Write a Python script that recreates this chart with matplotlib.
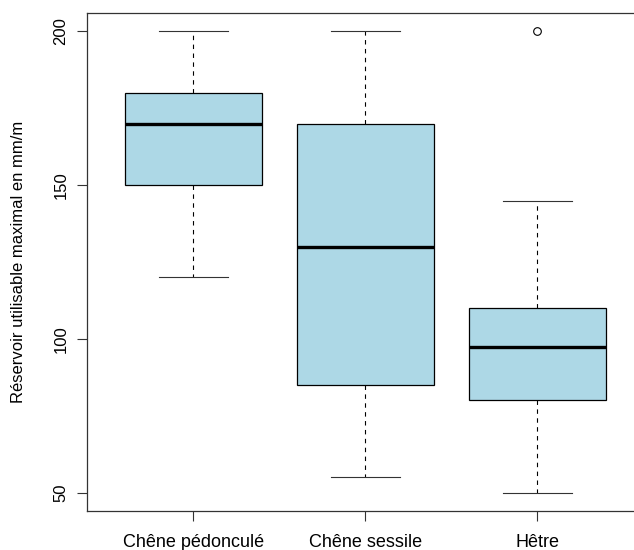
import matplotlib
matplotlib.use("Agg")
import matplotlib.pyplot as plt

plt.rcParams['font.family'] = ['Liberation Sans', 'DejaVu Sans']

# Données (réservoir utile maximal, mm/m)
especes = ['Chêne pédonculé', 'Chêne sessile', 'Hêtre']
moustache_bas = [120, 55, 50]
q1 = [150, 85, 80]
mediane = [170, 130, 97.5]
q3 = [180, 170, 110]
moustache_haut = [200, 200, 145]
atypiques = [[], [], [200]]

stats = []
for i in range(len(especes)):
    stats.append({'label': especes[i], 'whislo': moustache_bas[i], 'q1': q1[i],
                  'med': mediane[i], 'q3': q3[i], 'whishi': moustache_haut[i],
                  'fliers': atypiques[i]})

fig = plt.figure(figsize=(6.34, 5.5), dpi=100)
# la bordure droite du cadre sort de l'image (figure recadrée)
ax = fig.add_axes([86.7 / 634, 1 - 511 / 550, 557.3 / 634, 498 / 550])

ax.bxp(stats, positions=[1, 2, 3], widths=0.8, capwidths=0.4, patch_artist=True,
       boxprops=dict(facecolor='#ADD8E6', edgecolor='black', linewidth=0.9),
       medianprops=dict(color='black', linewidth=2.4, solid_capstyle='butt'),
       whiskerprops=dict(color='black', linewidth=0.8, linestyle=(0, (4, 4))),
       capprops=dict(color='#333333', linewidth=0.8),
       flierprops=dict(marker='o', markerfacecolor='none', markeredgecolor='black',
                       markersize=5.5, markeredgewidth=0.8))

ax.set_xlim(0.38, 3.62)
ax.set_ylim(44, 206)
ax.set_yticks([50, 100, 150, 200])
ax.set_xticks([1, 2, 3])
ax.set_xticklabels(especes)

for s in ax.spines.values():
    s.set_color('#333333')
    s.set_linewidth(0.9)
ax.spines['right'].set_visible(False)

ax.tick_params(axis='both', length=7.2, width=0.8, color='#333333')
ax.tick_params(axis='x', pad=9.5, labelsize=13)
ax.tick_params(axis='y', pad=6, labelsize=12)
for lab in ax.get_yticklabels():
    lab.set_rotation(90)
    lab.set_va('center')

ax.set_ylabel('Réservoir utilisable maximal en mm/m', fontsize=12)
ax.yaxis.set_label_coords(-0.122, 0.5)
ax.yaxis.label.set_va('center')

plt.savefig('out.png', dpi=100)
